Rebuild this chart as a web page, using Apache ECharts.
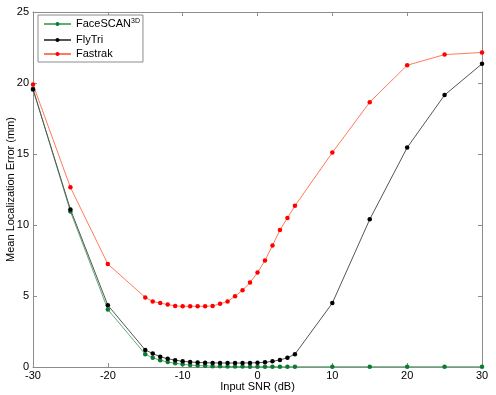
<!DOCTYPE html>
<html>
<head>
<meta charset="utf-8">
<script src="https://cdn.jsdelivr.net/npm/echarts@6/dist/echarts.min.js"></script>
<style>
  html, body { margin: 0; padding: 0; background: #fff; }
  #chart { width: 496px; height: 395px; }
</style>
</head>
<body>
<div id="chart"></div>
<script>
// SNR points (dB)
var snr = [-30, -25, -20,
  -15, -14, -13, -12, -11, -10, -9, -8, -7, -6, -5, -4, -3, -2, -1, 0, 1, 2, 3, 4, 5,
  10, 15, 20, 25, 30];

var faceScan = [19.6, 10.95, 4.05,
  0.9, 0.65, 0.48, 0.35, 0.26, 0.19, 0.14, 0.1, 0.08, 0.06, 0.05, 0.04, 0.03, 0.03, 0.02, 0.02, 0.02, 0.02, 0.02, 0.02, 0.02,
  0.02, 0.02, 0.02, 0.02, 0.02];

var flyTri = [19.55, 11.1, 4.35,
  1.2, 0.95, 0.72, 0.58, 0.48, 0.4, 0.35, 0.32, 0.3, 0.29, 0.28, 0.28, 0.28, 0.28, 0.29, 0.3, 0.33, 0.4, 0.5, 0.65, 0.9,
  4.5, 10.4, 15.45, 19.15, 21.35];

var fastrak = [19.9, 12.65, 7.25,
  4.9, 4.62, 4.5, 4.4, 4.3, 4.28, 4.28, 4.28, 4.28, 4.3, 4.45, 4.62, 4.98, 5.4, 5.95, 6.65, 7.5, 8.55, 9.65, 10.5, 11.35,
  15.1, 18.65, 21.25, 22.0, 22.15];

var xTicks = [-30, -20, -10, 0, 10, 20, 30];
var yTicks = [0, 5, 10, 15, 20, 25];

function pairs(vals) {
  return snr.map(function (x, i) { return [x, vals[i]]; });
}

var font = 'Liberation Sans, Arial, sans-serif';
var axisGray = '#8c8c8c';

function mkSeries(name, vals, lineColor, dotColor) {
  return {
    name: name,
    type: 'line',
    data: pairs(vals),
    symbol: 'circle',
    symbolSize: 4.5,
    showSymbol: true,
    lineStyle: { color: lineColor, width: 1 },
    itemStyle: { color: dotColor },
    emphasis: { disabled: true },
    z: 3
  };
}

// box axes (top / right) without labels
function boxAxis(extra) {
  return Object.assign({
    type: 'value',
    axisLine: { show: true, onZero: false, lineStyle: { color: axisGray } },
    axisTick: { show: true, inside: true, length: 4, lineStyle: { color: axisGray } },
    axisLabel: { show: false },
    splitLine: { show: false }
  }, extra);
}

var chart = echarts.init(document.getElementById('chart'));
chart.setOption({
  animation: false,
  backgroundColor: '#fff',
  grid: { left: 33, right: 14, top: 12, bottom: 28, containLabel: false, outerBoundsMode: 'none' },
  legend: {
    orient: 'vertical',
    left: 38,
    top: 15,
    padding: [3, 3, 2, 5],
    itemGap: 2,
    itemWidth: 27,
    itemHeight: 5,
    borderColor: '#8c8c8c',
    borderWidth: 1,
    backgroundColor: '#fff',
    textStyle: {
      fontFamily: font,
      fontSize: 11,
      lineHeight: 12,
      color: '#000',
      rich: {
        sup: { fontFamily: font, fontSize: 7, lineHeight: 8, verticalAlign: 'top', padding: [0, 0, 7, 0], color: '#000' }
      }
    },
    formatter: function (name) {
      return name === 'FaceSCAN' ? 'FaceSCAN{sup|3D}' : name;
    },
    data: ['FaceSCAN', 'FlyTri', 'Fastrak']
  },
  xAxis: [{
    type: 'value',
    position: 'bottom',
    min: xTicks[0],
    max: xTicks[xTicks.length - 1],
    interval: 10,
    name: 'Input SNR (dB)',
    nameLocation: 'middle',
    nameGap: 14,
    nameMoveOverlap: false,
    nameTextStyle: { fontFamily: font, fontSize: 11, color: '#000' },
    axisLine: { onZero: false, lineStyle: { color: axisGray } },
    axisTick: { inside: true, length: 4, lineStyle: { color: axisGray } },
    axisLabel: { fontFamily: font, fontSize: 11, color: '#000', margin: 3 },
    splitLine: { show: false }
  }, boxAxis({
    position: 'top',
    min: xTicks[0],
    max: xTicks[xTicks.length - 1],
    interval: 10
  })],
  yAxis: [{
    type: 'value',
    position: 'left',
    min: yTicks[0],
    max: yTicks[yTicks.length - 1],
    interval: 5,
    name: 'Mean Localization Error (mm)',
    nameLocation: 'middle',
    nameGap: 17,
    nameMoveOverlap: false,
    nameTextStyle: { fontFamily: font, fontSize: 11, color: '#000' },
    axisLine: { show: true, onZero: false, lineStyle: { color: axisGray } },
    axisTick: { show: true, inside: true, length: 4, lineStyle: { color: axisGray } },
    axisLabel: { fontFamily: font, fontSize: 11, color: '#000', margin: 4 },
    splitLine: { show: false }
  }, boxAxis({
    position: 'right',
    min: yTicks[0],
    max: yTicks[yTicks.length - 1],
    interval: 5
  })],
  series: [
    mkSeries('FaceSCAN', faceScan, '#5fae74', '#0b7a32'),
    mkSeries('FlyTri', flyTri, '#555555', '#000000'),
    mkSeries('Fastrak', fastrak, '#ff7a5c', '#ff0000')
  ]
});
</script>
</body>
</html>
